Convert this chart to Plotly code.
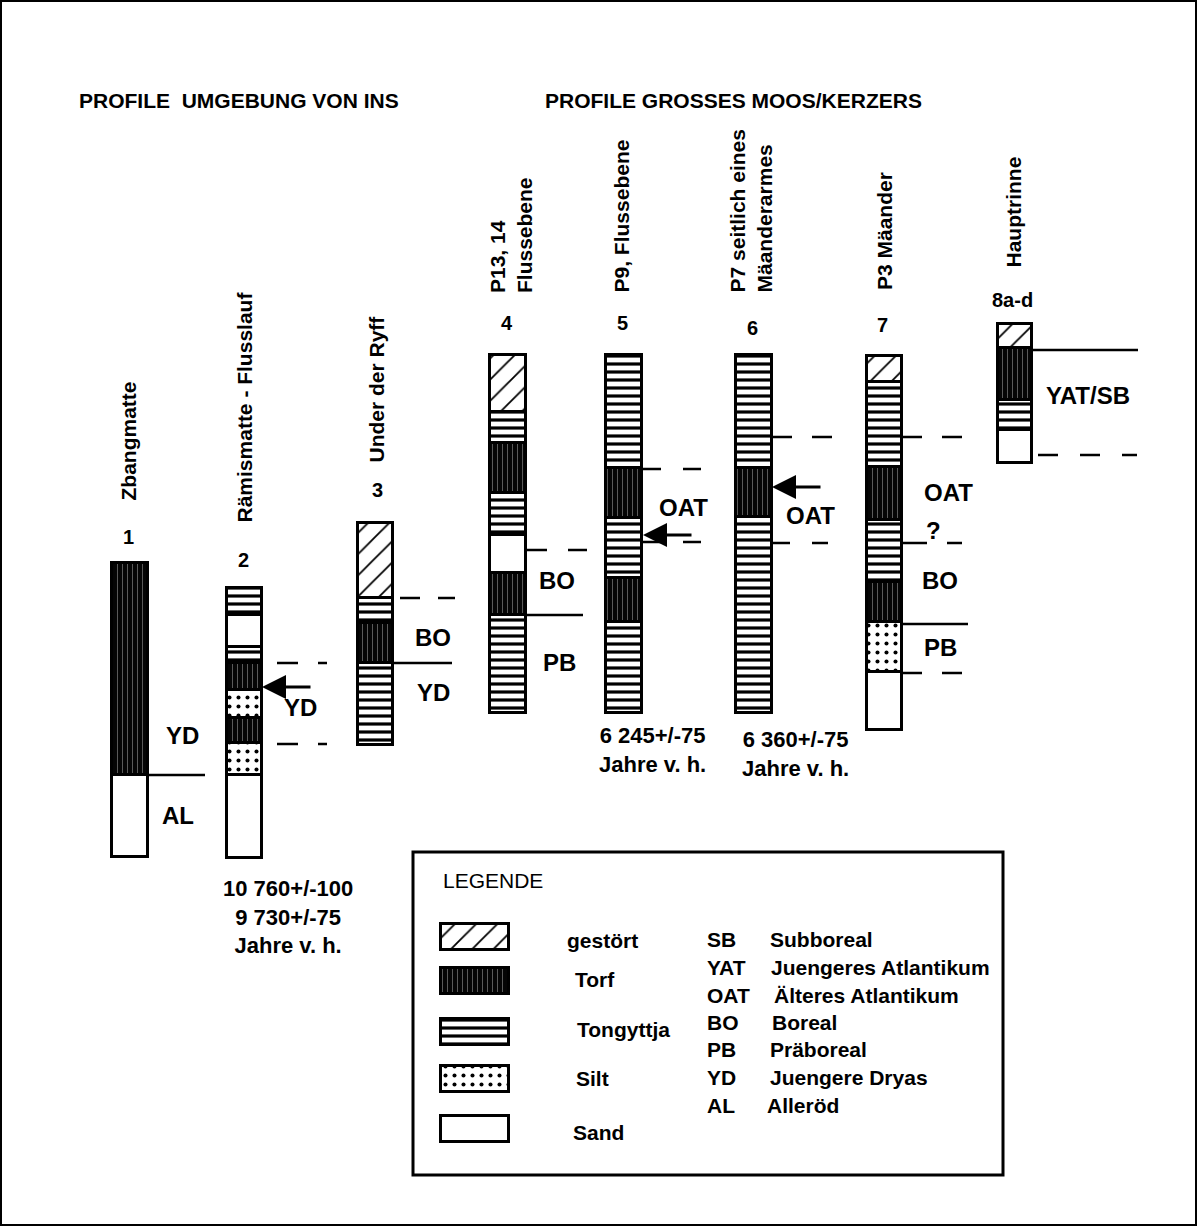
import plotly.graph_objects as go

# ---------------- data ----------------
profile_ids = ["1", "2", "3", "4", "5", "6", "7", "8a-d"]
profile_names = ["Zbangmatte", "Rämismatte - Flusslauf", "Under der Ryff",
                 "P13, 14<br>Flussebene", "P9, Flussebene",
                 "P7 seitlich eines<br>Mäanderarmes", "P3 Mäander", "Hauptrinne"]

# lithology sequence (top -> bottom) and boundary depths of each profile
p1_lith = ["Torf", "Sand"]
p1_depth = [563, 775, 857]
p2_lith = ["Tongyttja", "Sand", "Tongyttja", "Torf", "Silt", "Torf", "Silt", "Sand"]
p2_depth = [588, 615, 647, 663, 690, 718, 743, 775, 858]
p3_lith = ["gestört", "Tongyttja", "Torf", "Tongyttja"]
p3_depth = [523, 598, 623, 663, 745]
p4_lith = ["gestört", "Tongyttja", "Torf", "Tongyttja", "Sand", "Torf", "Tongyttja"]
p4_depth = [355, 412, 443, 493, 535, 573, 615, 713]
p5_lith = ["Tongyttja", "Torf", "Tongyttja", "Torf", "Tongyttja"]
p5_depth = [355, 468, 518, 578, 622, 713]
p6_lith = ["Tongyttja", "Torf", "Tongyttja"]
p6_depth = [355, 468, 517, 713]
p7_lith = ["gestört", "Tongyttja", "Torf", "Tongyttja", "Torf", "Silt", "Sand"]
p7_depth = [356, 382, 467, 520, 582, 622, 672, 730]
p8_lith = ["gestört", "Torf", "Tongyttja", "Sand"]
p8_depth = [324, 348, 400, 430, 463]

profiles_lith = [p1_lith, p2_lith, p3_lith, p4_lith, p5_lith, p6_lith, p7_lith, p8_lith]
profiles_depth = [p1_depth, p2_depth, p3_depth, p4_depth, p5_depth, p6_depth, p7_depth, p8_depth]

# chronozone boundaries (depth)
zone_depth = [775, 663, 744, 598, 663, 550, 615, 469, 542, 437, 543, 437, 543, 624, 673, 350, 455]

# chronozone labels
zone_labels = ["YD", "AL", "YD", "BO", "YD", "BO", "PB", "OAT", "OAT", "OAT", "?", "BO", "PB", "YAT/SB"]
zone_label_depth = [735, 815, 707, 637, 692, 580, 662, 507, 515, 492, 530, 580, 647, 395]

# dated samples (arrows) and date texts
arrow_depth = [687, 535, 487]
date_texts = ["10 760+/-100<br>9 730+/-75<br>Jahre v. h.",
              "6 245+/-75<br>Jahre v. h.",
              "6 360+/-75<br>Jahre v. h."]

# legend content
legend_lith = ["gestört", "Torf", "Tongyttja", "Silt", "Sand"]
legend_abbr = ["SB", "YAT", "OAT", "BO", "PB", "YD", "AL"]
legend_desc = ["Subboreal", "Juengeres Atlantikum", "Älteres Atlantikum", "Boreal",
               "Präboreal", "Juengere Dryas", "Alleröd"]

titles = ["PROFILE  UMGEBUNG VON INS", "PROFILE GROSSES MOOS/KERZERS"]

# ---------------- layout constants ----------------
W, H = 1198, 1227
FONT = "Liberation Sans, Arial, Helvetica, sans-serif"
col_x = [130, 244.5, 375.5, 508, 624, 754, 884.5, 1015]
col_w = [36, 35, 35, 36, 36, 36, 35, 34]

styles = {
    "gestört": dict(bgcolor="white", fgcolor="black", shape="/", size=15, solidity=0.12),
    "Torf": dict(bgcolor="#050505", fgcolor="#5a5a5a", shape="|", size=5, solidity=0.2),
    "Tongyttja": dict(bgcolor="white", fgcolor="black", shape="-", size=8, solidity=0.4),
    "Silt": dict(bgcolor="white", fgcolor="black", shape=".", size=9, solidity=0.16),
    "Sand": dict(bgcolor="white", fgcolor="white", shape="", size=8, solidity=0.1),
}

# legend swatch geometry
leg_sw_x, leg_sw_w = 475, 68
leg_sw_top = [924, 968, 1019, 1066, 1116]
leg_sw_h = 26

fig = go.Figure()

for lith, st in styles.items():
    xs, bases, hs, ws = [], [], [], []
    for i, (liths, depths) in enumerate(zip(profiles_lith, profiles_depth)):
        for j, l in enumerate(liths):
            if l == lith:
                xs.append(col_x[i])
                bases.append(depths[j])
                hs.append(depths[j + 1] - depths[j])
                ws.append(col_w[i])
    k = legend_lith.index(lith)
    xs.append(leg_sw_x); bases.append(leg_sw_top[k]); hs.append(leg_sw_h); ws.append(leg_sw_w)
    fig.add_trace(go.Bar(
        x=xs, y=hs, base=bases, width=ws, name=lith,
        marker=dict(color=st["bgcolor"], line=dict(color="black", width=3),
                    pattern=dict(shape=st["shape"], fgcolor=st["fgcolor"], bgcolor=st["bgcolor"],
                                 size=st["size"], solidity=st["solidity"], fillmode="replace")),
        hoverinfo="skip", showlegend=False))

shapes = []
# outer frame and legend box
shapes.append(dict(type="rect", x0=1, y0=1, x1=W - 2, y1=H - 2, line=dict(color="black", width=2)))
shapes.append(dict(type="rect", x0=413, y0=852, x1=1003, y1=1175, line=dict(color="black", width=3)))

zone_x0 = [148, 277, 277, 400, 393, 527, 527, 643, 643, 772, 772, 902, 902, 902, 902, 1032, 1038]
zone_x1 = [205, 327, 327, 455, 452, 587, 583, 702, 702, 832, 828, 962, 962, 968, 962, 1138, 1137]
zone_dashpat = ["solid", "21px,20px", "21px,20px", "20px,18px", "solid", "20px,21px", "solid",
                "18px,22px", "18px,22px", "20px,20px", "18px,22px", "20px,20px", "25px,20px",
                "solid", "20px,20px", "solid", "20px,22px"]
for d, x0, x1, dp in zip(zone_depth, zone_x0, zone_x1, zone_dashpat):
    shapes.append(dict(type="line", x0=x0, x1=x1, y0=d, y1=d,
                       line=dict(color="black", width=2.5, dash=dp)))

ann = []


def txt(x, y, t, size, bold=False, xa="left", ya="middle", angle=0, align="left"):
    ann.append(dict(x=x, y=y, text=("<b>%s</b>" % t) if bold else t, showarrow=False,
                    xanchor=xa, yanchor=ya, textangle=angle, align=align,
                    font=dict(family=FONT, size=size, color="black")))


# titles
txt(77, 100, titles[0], 21, bold=True)
txt(543, 100, titles[1], 21, bold=True)

# profile numbers
num_y = [537, 560, 490, 323, 323, 328, 325, 300]
num_x = [128, 243, 377, 507, 622, 752, 882, 1012]
for t, x, y in zip(profile_ids, num_x, num_y):
    txt(x, y, t, 20, bold=True, xa="center")

# rotated profile names
name_x = [128, 244, 376, 511, 621, 750, 884, 1013]
name_bottom = [503, 525, 465, 295, 295, 295, 292, 270]
for t, x, y in zip(profile_names, name_x, name_bottom):
    txt(x, y, t, 21, bold=True, xa="center", ya="bottom", angle=-90)

# zone labels
zl_x = [182, 178, 300, 433, 433, 557, 559, 683, 810, 948, 933, 940, 940, 1088]
for t, x, y in zip(zone_labels, zl_x, zone_label_depth):
    txt(x, y, t, 24, bold=True, xa="center")

# arrows to dated samples
arrow_tip_x = [262, 643, 772]
for x, y in zip(arrow_tip_x, arrow_depth):
    ann.append(dict(x=x, y=y, ax=x + 50, ay=y, axref="x", ayref="y", xref="x", yref="y",
                    text="", showarrow=True, arrowhead=2, arrowsize=1.6, arrowwidth=3,
                    arrowcolor="black", standoff=0))

# dates
date_x = [288, 652, 795]
date_y = [874, 721, 725]
for t, x, y in zip(date_texts, date_x, date_y):
    txt(x, y, t, 22, bold=True, xa="center", ya="top", align="center")

# legend texts
txt(441, 880, "LEGENDE", 21)
leg_lab_x = [565, 573, 575, 574, 571]
leg_lab_y = [940, 979, 1029, 1078, 1132]
for t, x, y in zip(legend_lith, leg_lab_x, leg_lab_y):
    txt(x, y, t, 21, bold=True)
abbr_y = [939, 967, 995, 1022, 1049, 1077, 1105]
desc_x = [768, 769, 772, 770, 768, 768, 765]
for a, dsc, y, dx in zip(legend_abbr, legend_desc, abbr_y, desc_x):
    txt(705, y, a, 21, bold=True)
    txt(dx, y, dsc, 21, bold=True)

fig.update_layout(
    width=W, height=H, margin=dict(l=0, r=0, t=0, b=0),
    paper_bgcolor="white", plot_bgcolor="white",
    barmode="overlay", bargap=0, showlegend=False,
    xaxis=dict(range=[0, W], visible=False, fixedrange=True),
    yaxis=dict(range=[H, 0], visible=False, fixedrange=True),
    shapes=shapes, annotations=ann,
)

fig.write_html("out.html", config={"displayModeBar": False},
               post_script="document.body.style.margin='0';document.body.style.overflow='hidden';")
